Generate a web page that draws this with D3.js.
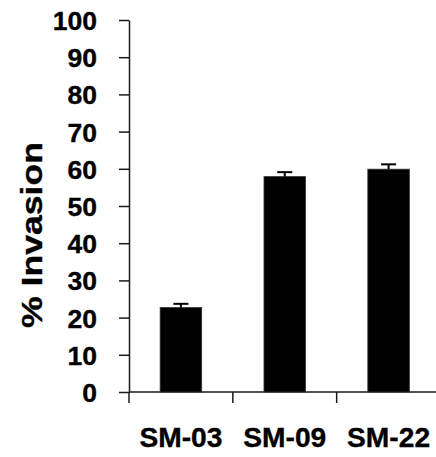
<!DOCTYPE html>
<html>
<head>
<meta charset="utf-8">
<script src="https://cdn.jsdelivr.net/npm/d3@7"></script>
<style>
  html, body { margin: 0; padding: 0; background: #fff; }
  svg { display: block; }
  text { font-family: "Liberation Sans", Arial, sans-serif; font-weight: bold; fill: #000; stroke: #000; stroke-width: 0.35px; }
</style>
</head>
<body>
<svg id="chart" width="436" height="457"></svg>
<script>
const categories = ["SM-03", "SM-09", "SM-22"];
const values = [22.7, 57.9, 59.9];
const errors = [1.0, 1.2, 1.3];
const yTicks = [0, 10, 20, 30, 40, 50, 60, 70, 80, 90, 100];
const yLabel = "% Invasion";

const svg = d3.select("#chart");
const x0 = 129, x1 = 440.5, yTop = 20, yBot = 392;

const x = d3.scaleBand().domain(categories).range([x0, x1]).padding(0);
const y = d3.scaleLinear().domain([0, 100]).range([yBot, yTop]);

const stroke = "#1a1a1a";

// Y axis
const yAxis = d3.axisLeft(y).tickValues(yTicks).tickSize(10).tickPadding(22).tickSizeOuter(0);
const gy = svg.append("g").attr("transform", `translate(${x0},0)`).call(yAxis);
gy.select(".domain").attr("stroke", stroke).attr("stroke-width", 1.5);
gy.selectAll(".tick line").attr("stroke", stroke).attr("stroke-width", 1.5);
gy.selectAll(".tick text")
  .style("font-size", "26.5px")
  .attr("dy", "0.36em")
  .attr("fill", "#000");

// X axis line with ticks at band boundaries
const gx = svg.append("g");
gx.append("line")
  .attr("x1", x0).attr("x2", 436)
  .attr("y1", y(0)).attr("y2", y(0))
  .attr("stroke", stroke).attr("stroke-width", 1.5);
const boundaries = categories.map(c => x(c));
gx.selectAll(".xt").data(boundaries).enter().append("line")
  .attr("x1", d => d).attr("x2", d => d)
  .attr("y1", y(0)).attr("y2", y(0) + 11)
  .attr("stroke", stroke).attr("stroke-width", 1.5);

// X labels
svg.append("g").selectAll("text").data(categories).enter().append("text")
  .attr("x", d => x(d) + x.bandwidth() / 2)
  .attr("y", 446.5)
  .attr("text-anchor", "middle")
  .style("font-size", "27px")
  .attr("textLength", 83)
  .attr("lengthAdjust", "spacingAndGlyphs")
  .text(d => d);

// Bars
const barW = x.bandwidth() * 0.4;
const data = categories.map((c, i) => ({ c, v: values[i], e: errors[i] }));
svg.append("g").selectAll("rect").data(data).enter().append("rect")
  .attr("x", d => x(d.c) + x.bandwidth() / 2 - barW / 2)
  .attr("y", d => y(d.v))
  .attr("width", barW)
  .attr("height", d => y(0) - y(d.v))
  .attr("fill", "#000")
  .attr("stroke", "#333")
  .attr("stroke-width", 0.8);

// Error bars (upper only)
const eg = svg.append("g").attr("stroke", "#000").attr("stroke-width", 2);
eg.selectAll(".ev").data(data).enter().append("line")
  .attr("x1", d => x(d.c) + x.bandwidth() / 2)
  .attr("x2", d => x(d.c) + x.bandwidth() / 2)
  .attr("y1", d => y(d.v))
  .attr("y2", d => y(d.v + d.e));
eg.selectAll(".ec").data(data).enter().append("line")
  .attr("x1", d => x(d.c) + x.bandwidth() / 2 - 7.5)
  .attr("x2", d => x(d.c) + x.bandwidth() / 2 + 7.5)
  .attr("y1", d => y(d.v + d.e))
  .attr("y2", d => y(d.v + d.e));

// Y label
svg.append("text")
  .attr("transform", `translate(41.5,235) rotate(-90)`)
  .attr("text-anchor", "middle")
  .style("font-size", "29px")
  .attr("textLength", 186)
  .attr("lengthAdjust", "spacingAndGlyphs")
  .text(yLabel);
</script>
</body>
</html>
